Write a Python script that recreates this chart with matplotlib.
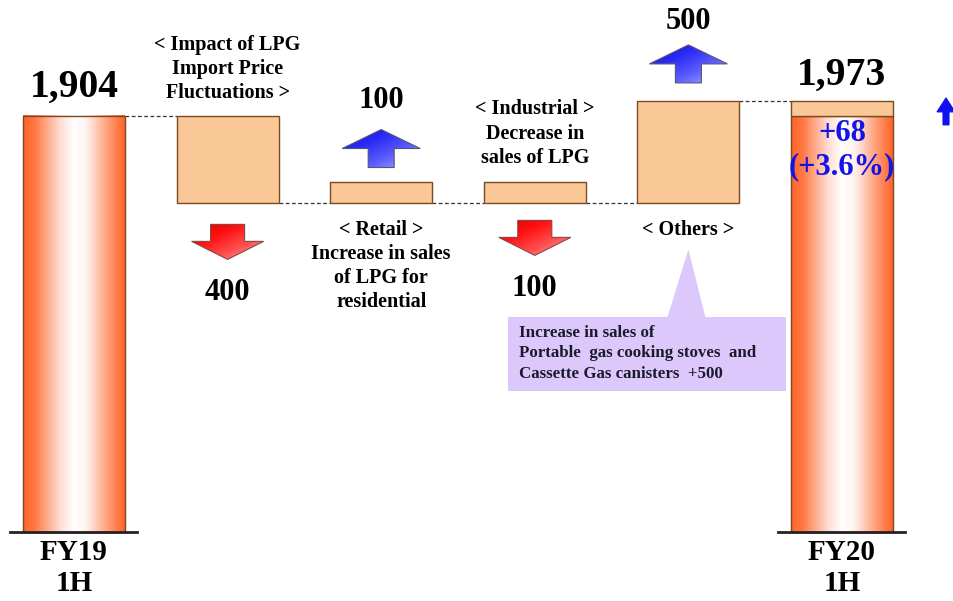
import numpy as np
import matplotlib.pyplot as plt
from matplotlib.colors import LinearSegmentedColormap
from matplotlib.patches import Polygon, Rectangle

# values (t)
fy19_total = 1904
fy20_total = 1973
totals_labels = ['FY19\n1H', 'FY20\n1H']
step_names = ['< Impact of LPG\nImport Price\nFluctuations >',
              '< Retail >\nIncrease in sales\nof LPG for\nresidential',
              '< Industrial >\nDecrease in\nsales of LPG',
              '< Others >']
step_changes = [-400, 100, -100, 500]
diff_text = '+68\n(+3.6%)'
callout_text = ('Increase in sales of\nPortable  gas cooking stoves  and\n'
                'Cassette Gas canisters  +500')

W, H = 954, 601
fig = plt.figure(figsize=(W / 100, H / 100), dpi=100)
ax = fig.add_axes([0, 0, 1, 1])
ax.axis('off')

# pixel scale of the original slide
PXX = 1 / 153.6     # x units per pixel
PXY = 1 / 0.2185    # value units per pixel
ax.set_xlim(-74 * PXX, (W - 74) * PXX)
ax.set_ylim(-(H - 532) * PXY, 532 * PXY)

bw = 102 * PXX
serif = 'Liberation Serif'
peach = '#FAC896'
edge = '#7A4A22'

grad = LinearSegmentedColormap.from_list(
    'bar', [(0, '#FF6326'), (0.12, '#FF7A45'), (0.35, '#FFD9CC'),
            (0.5, '#FFFFFF'), (0.62, '#FFF4F0'), (0.85, '#FF9870'), (1, '#FF6326')])


def grad_bar(x, y0, y1):
    g = np.linspace(0, 1, 256).reshape(1, -1)
    ax.imshow(g, cmap=grad, aspect='auto', extent=(x - bw / 2, x + bw / 2, y0, y1),
              zorder=2, interpolation='bilinear')
    ax.add_patch(Rectangle((x - bw / 2, y0), bw, y1 - y0, fill=False, ec=edge, lw=1, zorder=3))


def flat_bar(x, y0, y1):
    ax.add_patch(Rectangle((x - bw / 2, y0), bw, y1 - y0, fc=peach, ec=edge, lw=1, zorder=3))


def arrow(x, y_base, up, colors, hw=78, bdw=26, total=38, head=19, outline='#555577'):
    # y_base: end of the arrow nearest the bar, sizes in pixels
    s = 1 if up else -1
    y_far = y_base + s * total * PXY
    y_neck = y_far - s * head * PXY
    hx, bx = hw / 2 * PXX, bdw / 2 * PXX
    pts = [(x - bx, y_base), (x - bx, y_neck), (x - hx, y_neck), (x, y_far),
           (x + hx, y_neck), (x + bx, y_neck), (x + bx, y_base)]
    poly = Polygon(pts, closed=True, fc='none', ec=outline, lw=0.8, zorder=5)
    ax.add_patch(poly)
    cm = LinearSegmentedColormap.from_list('a', colors)
    xx, yy = np.meshgrid(np.linspace(0, 1, 100), np.linspace(0, 1, 100))
    g = (xx + yy) / 2
    ymin, ymax = sorted([y_base, y_far])
    im = ax.imshow(g, cmap=cm, aspect='auto', extent=(x - hx, x + hx, ymin, ymax),
                   origin='upper', zorder=4, interpolation='bilinear')
    im.set_clip_path(poly)


txt = dict(family=serif, weight='bold', ha='center', va='center', zorder=6)

# totals
grad_bar(0, 0, fy19_total)
grad_bar(5, 0, fy19_total)
flat_bar(5, fy19_total, fy20_total)
for x in (0, 5):
    ax.plot([x - 64 * PXX, x + 63 * PXX], [0, 0], color='#222222', lw=2, zorder=4)
ax.text(0, fy19_total + 29 * PXY, f'{fy19_total:,}', fontsize=28.5, **txt)
ax.text(5, fy20_total + 26 * PXY, f'{fy20_total:,}', fontsize=28.5, **txt)
for x, lab in zip((0, 5), totals_labels):
    ax.text(x, -36 * PXY, lab, fontsize=21, linespacing=1.2, **txt)
ax.text(5, fy19_total - 34 * PXY, diff_text, fontsize=22, color='#1414E6',
        linespacing=1.22, **txt)

# steps
level = fy19_total
lows, highs = [], []
for i, ch in enumerate(step_changes):
    end = level + ch
    if i == len(step_changes) - 1:
        end = fy20_total
    lo, hi = min(level, end), max(level, end)
    lows.append(lo)
    highs.append(hi)
    flat_bar(i + 1, lo, hi)
    level = end

# dashed connectors
conn = [fy19_total] + [max(lows[i], lows[i + 1]) for i in range(len(lows) - 1)] + [fy20_total]
for i, y in enumerate(conn):
    ax.plot([i + bw / 2, i + 1 - bw / 2], [y, y], color='#333333', lw=0.9,
            ls=(0, (3, 2)), zorder=2)

blue = ['#1010D8', '#2A2AF5', '#6060FF', '#B8B8FF']
red = ['#D80000', '#FF1010', '#FF5050', '#FFB0B0']
for i, ch in enumerate(step_changes):
    x = i + 1
    if ch > 0:
        g = 14 if i == 1 else 18
        arrow(x, highs[i] + g * PXY, True, blue)
        ax.text(x, highs[i] + (81 if i == 1 else 79) * PXY, f'{abs(ch)}', fontsize=22, **txt)
    else:
        g = 21 if i == 0 else 17
        arrow(x, lows[i] - g * PXY, False, red, hw=72, bdw=34, total=35, head=18,
              outline='#884444')
        ax.text(x, lows[i] - (89 if i == 0 else 85) * PXY, f'{abs(ch)}', fontsize=22, **txt)

# step titles
ax.text(1, highs[0] + 47 * PXY, step_names[0], fontsize=14.5, linespacing=1.28, **txt)
ax.text(2, lows[1] - 63 * PXY, step_names[1], fontsize=14.5, linespacing=1.27, **txt)
ax.text(3, highs[2] + 48 * PXY, step_names[2], fontsize=14.5, linespacing=1.28, **txt)
ax.text(4, lows[3] - 27 * PXY, step_names[3], fontsize=14.5, **txt)

# callout for others
lav = '#DCC8FA'
bx0, bx1 = 4 + (509 - 689) * PXX, 4 + (787 - 689) * PXX
by_top, by_bot = lows[3] - 114 * PXY, lows[3] - 188 * PXY
ax.add_patch(Rectangle((bx0, by_bot), bx1 - bx0, by_top - by_bot, fc=lav, ec='none', zorder=3))
ax.add_patch(Polygon([(4 - 21 * PXX, by_top), (4, lows[3] - 46 * PXY), (4 + 17 * PXX, by_top)],
                     closed=True, fc=lav, ec='none', zorder=3))
ax.text(bx0 + 11 * PXX, (by_top + by_bot) / 2 + 1 * PXY, callout_text, family=serif,
        weight='bold', fontsize=12.2, ha='left', va='center', linespacing=1.38,
        color='#1a1a2a', zorder=6)

# small arrow at right edge
arrow(5 + 104 * PXX, fy20_total - 24 * PXY, True, ['#1010F0', '#1010F0'],
      hw=18, bdw=6, total=27, head=14, outline='#1010F0')

fig.savefig('out.png', dpi=100)
